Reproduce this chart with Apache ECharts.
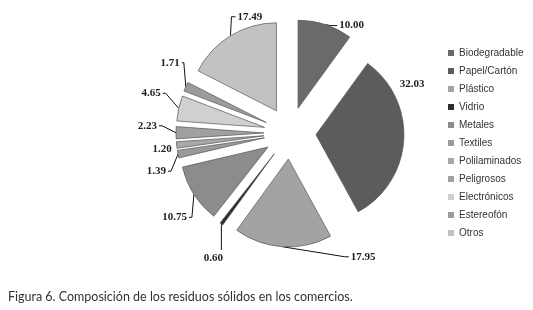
<!DOCTYPE html>
<html><head><meta charset="utf-8">
<script src="https://cdn.jsdelivr.net/npm/echarts@6/dist/echarts.min.js"></script>
<style>html,body{margin:0;padding:0;background:#fff}#c{width:533px;height:310px}</style>
</head><body><div id="c"></div>
<script>
const categories = ['Biodegradable','Papel/Cartón','Plástico','Vidrio','Metales','Textiles','Polilaminados','Peligrosos','Electrónicos','Estereofón','Otros'];
const values = [10.00, 32.03, 17.95, 0.60, 10.75, 1.39, 1.20, 2.23, 4.65, 1.71, 17.49];
const colors = ['#6a6a6a','#5c5c5c','#a3a3a3','#2e2e2e','#8c8c8c','#9a9a9a','#a8a8a8','#a0a0a0','#d0d0d0','#9c9c9c','#c2c2c2'];
const caption = 'Figura 6. Composición de los residuos sólidos en los comercios.';

const CX = 290, CY = 133, R = 88, EXPLODE = 26;
// leader-line styling per slice: [elbow dx, elbow dy, tail dx, showLine, labelSide]
const leader = [
  [5, 1, 7, true, 'right'],
  [-6, -56, 0, false, 'right'],
  [62, 10, 4, true, 'right'],
  [0, 26, 0, true, 'below'],
  [-2, 23, -3, true, 'left'],
  [-7, 17, -3, true, 'left'],
  [-3, 4, 0, false, 'left'],
  [-14, -7, -3, true, 'left'],
  [-13, -15, -3, true, 'left'],
  [-2, -24, -2, true, 'left'],
  [1, -19, 4, true, 'right']
];

const chart = echarts.init(document.getElementById('c'));
const common = { type: 'pie', center: [CX, CY], radius: [0, R], startAngle: 90, clockwise: true, emphasis: { disabled: true } };
chart.setOption({
  animation: false,
  backgroundColor: '#fff',
  color: colors,
  legend: {
    orient: 'vertical', left: 443, top: 42,
    itemWidth: 6, itemHeight: 6, itemGap: 6,
    icon: 'rect',
    itemStyle: { borderWidth: 0 },
    textStyle: { fontFamily: 'Liberation Sans', fontSize: 10, color: '#333', lineHeight: 12 },
    data: categories
  },
  graphic: [{
    type: 'text', left: 8, top: 290,
    style: { text: caption, fontFamily: 'Lato', fontSize: 12.5, fill: '#333' }
  }],
  series: [Object.assign({}, common, {
    selectedMode: 'multiple',
    selectedOffset: EXPLODE,
    itemStyle: { borderColor: '#555', borderWidth: 0.7 },
    label: { show: false },
    labelLine: { show: false },
    data: categories.map((c, i) => ({ name: c, value: values[i], selected: true }))
  }), Object.assign({}, common, {
    silent: true,
    avoidLabelOverlap: false,
    itemStyle: { color: 'rgba(0,0,0,0)', borderWidth: 0 },
    label: {
      show: true, position: 'outside', formatter: p => p.value.toFixed(2),
      fontFamily: 'Liberation Serif', fontSize: 11, fontWeight: 'bold', color: '#222'
    },
    labelLine: { show: true, length: 8, length2: 10, lineStyle: { color: '#111', width: 1 } },
    labelLayout: function (params) {
      const L = leader[params.dataIndex];
      const q = params.labelLinePoints[0];
      const vx = q[0] - CX, vy = q[1] - CY, d = Math.sqrt(vx * vx + vy * vy) || 1;
      const p0 = [q[0] + vx / d * EXPLODE, q[1] + vy / d * EXPLODE];
      const p1 = [p0[0] + L[0], p0[1] + L[1]];
      const p2 = [p1[0] + L[2], p1[1]];
      const out = { labelLinePoints: L[3] ? [p0, p1, p2] : [p0, p0, p0] };
      if (L[4] === 'right') { out.x = p2[0] + 2; out.y = p2[1]; out.align = 'left'; out.verticalAlign = 'middle'; }
      else if (L[4] === 'left') { out.x = p2[0] - 2; out.y = p2[1]; out.align = 'right'; out.verticalAlign = 'middle'; }
      else { out.x = p2[0] - 8; out.y = p2[1] + 3; out.align = 'center'; out.verticalAlign = 'top'; }
      return out;
    },
    data: categories.map((c, i) => ({ name: c, value: values[i] }))
  })]
});
</script></body></html>
